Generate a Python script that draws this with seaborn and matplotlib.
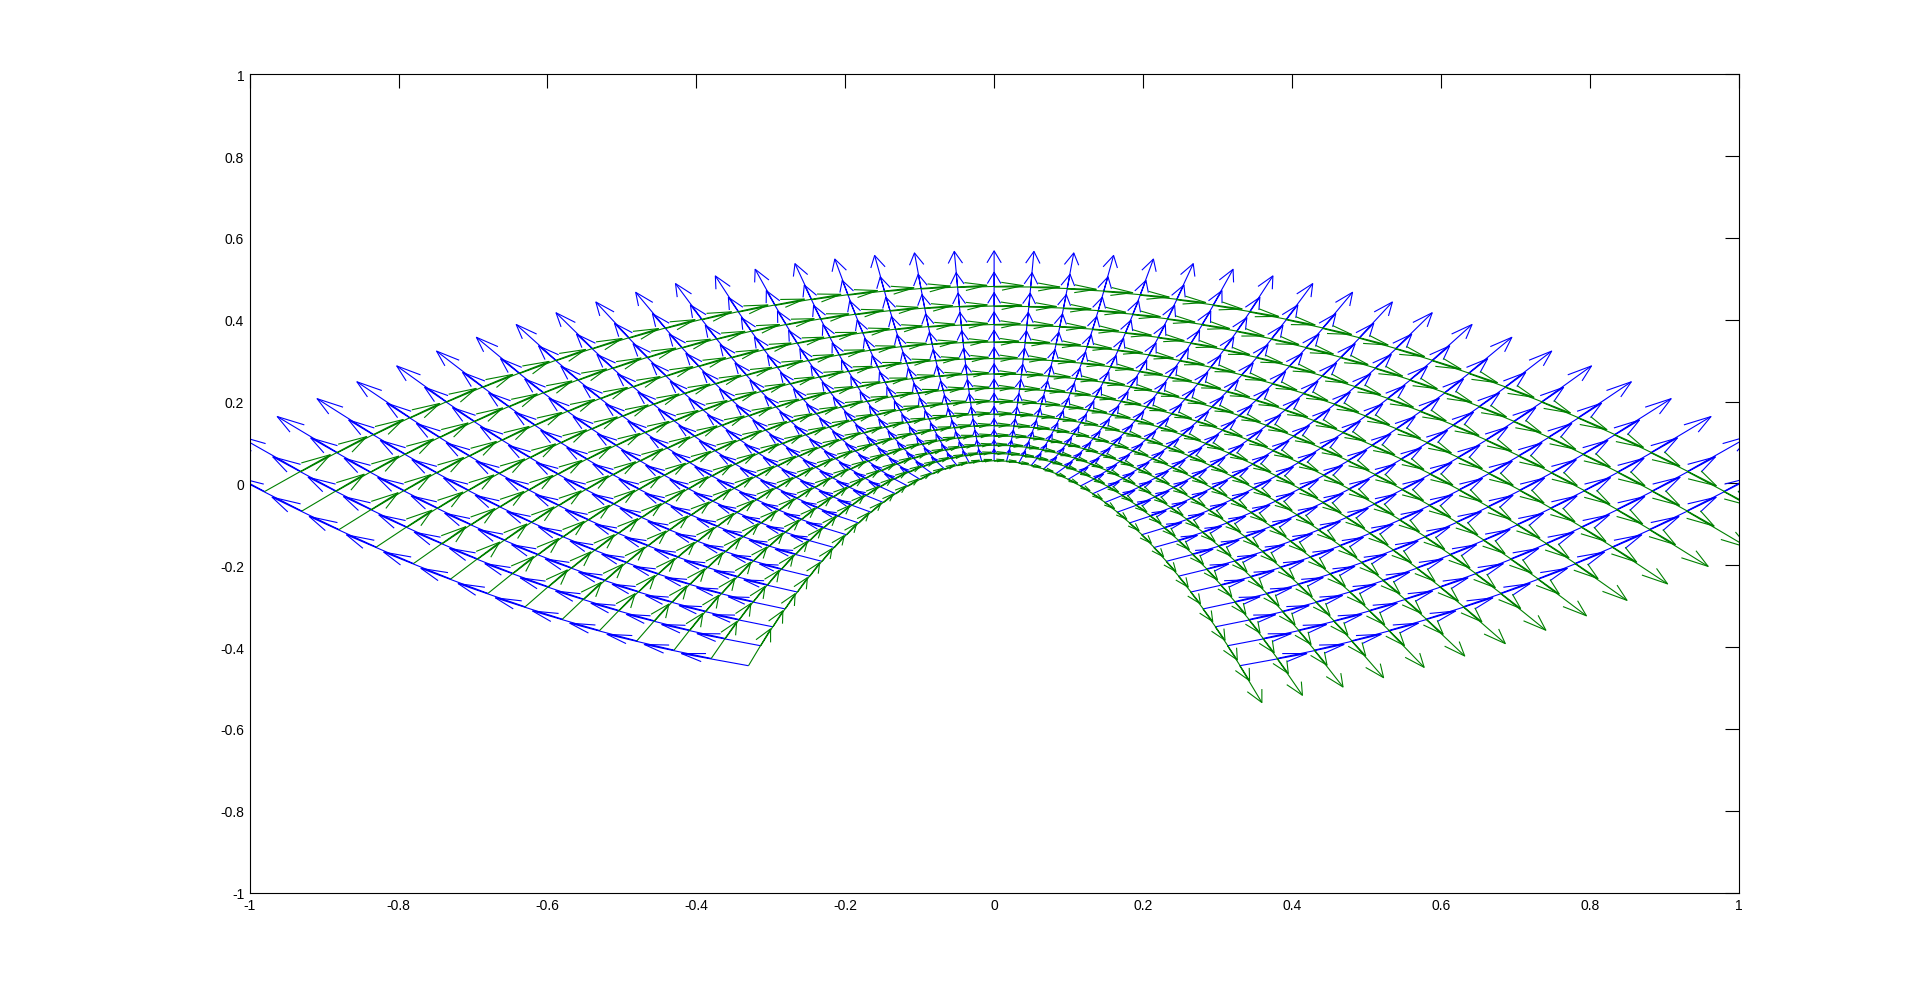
import numpy as np
import matplotlib
matplotlib.use("Agg")
import matplotlib.pyplot as plt
import seaborn as sns

# parabolic coordinates of the grid nodes
sigma = [-1.00, -0.95, -0.90, -0.85, -0.80, -0.75, -0.70, -0.65, -0.60, -0.55,
         -0.50, -0.45, -0.40, -0.35, -0.30, -0.25, -0.20, -0.15, -0.10, -0.05,
         0.00, 0.05, 0.10, 0.15, 0.20, 0.25, 0.30, 0.35, 0.40, 0.45,
         0.50, 0.55, 0.60, 0.65, 0.70, 0.75, 0.80, 0.85, 0.90, 0.95, 1.00]
tau = [0.33, 0.38, 0.43, 0.48, 0.53, 0.58, 0.63, 0.68, 0.73, 0.78, 0.83, 0.88, 0.93, 0.98]

# arrow length factor
arrow_scale = 0.09

ticks = [-1, -0.8, -0.6, -0.4, -0.2, 0, 0.2, 0.4, 0.6, 0.8, 1]
tick_labels = ['-1', '-0.8', '-0.6', '-0.4', '-0.2', '0', '0.2', '0.4', '0.6', '0.8', '1']

BLUE = (0, 0, 1)
GREEN = (0, 0.5, 0)


def matlab_quiver(ax, x, y, u, v, color):
    # old-style matlab quiver: shaft + open V head, drawn in data units
    alpha, beta = 0.33, 0.33
    x, y, u, v = (np.ravel(a) for a in (x, y, u, v))
    gap = np.full_like(x, np.nan)
    sx = np.vstack([x, x + u, gap]).T.ravel()
    sy = np.vstack([y, y + v, gap]).T.ravel()
    hx = np.vstack([x + u - alpha * (u + beta * v), x + u,
                    x + u - alpha * (u - beta * v), gap]).T.ravel()
    hy = np.vstack([y + v - alpha * (v - beta * u), y + v,
                    y + v - alpha * (v + beta * u), gap]).T.ravel()
    ax.plot(sx, sy, color=color, lw=0.8, solid_capstyle='butt')
    ax.plot(hx, hy, color=color, lw=0.8, solid_capstyle='butt')


sns.set_style("white")
plt.rcParams['font.family'] = ['Liberation Sans', 'DejaVu Sans']
plt.rcParams['axes.unicode_minus'] = False

S, T = np.meshgrid(np.array(sigma), np.array(tau))
X = S * T
Y = (T ** 2 - S ** 2) / 2

fig = plt.figure(figsize=(19.21, 10.04), dpi=100)
ax = fig.add_axes([0.13, 0.11, 0.775, 0.815])

# d/dtau (blue) and d/dsigma (green) basis vectors
matlab_quiver(ax, X, Y, arrow_scale * S, arrow_scale * T, BLUE)
matlab_quiver(ax, X, Y, arrow_scale * T, -arrow_scale * S, GREEN)

ax.set_xlim(-1, 1)
ax.set_ylim(-1, 1)
ax.set_xticks(ticks)
ax.set_xticklabels(tick_labels)
ax.set_yticks(ticks)
ax.set_yticklabels(tick_labels)
ax.tick_params(direction='in', top=True, right=True, length=10, width=0.8,
               labelsize=10, colors='black', pad=4)
for sp in ax.spines.values():
    sp.set_color('black')
    sp.set_linewidth(0.8)

fig.savefig('out.png', dpi=100, facecolor='white')
